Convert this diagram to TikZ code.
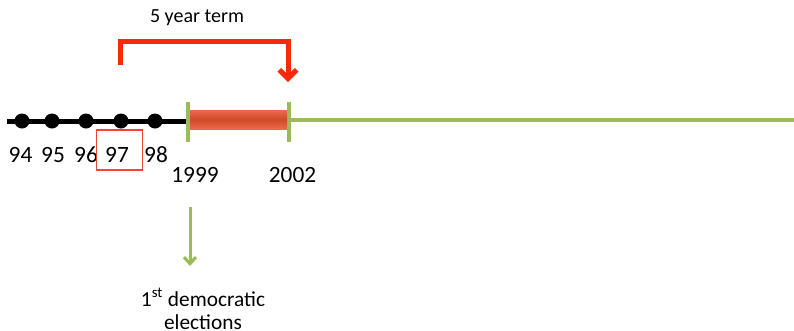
\documentclass[tikz,border=0pt]{standalone}
\usepackage{fontspec}
\setmainfont{Carlito}
\usetikzlibrary{positioning,arrows.meta}
\definecolor{termred}{RGB}{250,40,10}
\definecolor{linegreen}{RGB}{155,187,89}
\definecolor{barred}{RGB}{236,104,80}
\definecolor{bardark}{RGB}{208,76,40}
\definecolor{boxred}{RGB}{240,70,50}

\begin{document}
\begin{tikzpicture}[x=0.75pt, y=-0.75pt,
    dot/.style={circle, fill=black, inner sep=0pt, minimum size=11.25pt},
    tick/.style={rectangle, fill=linegreen, inner sep=0pt, minimum width=2.6pt, minimum height=30pt},
    yearlbl/.style={anchor=base, inner sep=0pt, font=\fontsize{17.5}{20}\selectfont},
    hlbox/.style={draw=boxred, line width=0.8pt, inner sep=0pt, minimum width=35pt, minimum height=30pt},
    oldline/.style={line width=3.75pt, black},
    newline/.style={line width=3.4pt, linegreen},
    termarrow/.style={-{Straight Barb[length=6.5pt, width=13pt]}, line width=3.75pt, termred},
    elecarrow/.style={-{Straight Barb[length=5pt, width=9pt]}, line width=2.25pt, linegreen},
    note/.style={align=center, inner sep=0pt, font=\fontsize{16}{17.5}\selectfont}
]
\useasboundingbox (0,0) rectangle (794,330);

% Ends of the time line
\coordinate (lstart) at (7,121);
\coordinate (lend) at (794,120);

% Years before 1999
\node[dot] (d94) at (22,121) {};
\node[dot] (d95) at (52,121) {};
\node[dot] (d96) at (86,121) {};
\node[dot] (d97) at (121,121) {};
\node[dot] (d98) at (155,121) {};
\node[yearlbl] (l94) at (20.5,162) {94};
\node[yearlbl] (l95) at (53,162) {95};
\node[yearlbl] (l96) at (86,162) {96};
\node[yearlbl] (l97) at (117,162) {97};
\node[yearlbl] (l98) at (156,162) {98};
\node[hlbox] (box97) at (119.5,150) {};

% Term markers
\node[tick] (t1999) at (188,122) {};
\node[tick] (t2002) at (289,122) {};
\node[yearlbl] (l1999) at (195,182) {1999};
\node[yearlbl] (l2002) at (292.5,182) {2002};

% Lines
\draw[oldline] (lstart) -- (t1999.west |- lstart);
\draw[newline] (t2002.east |- lend) -- (lend);
\shade[top color=barred, bottom color=barred, middle color=bardark]
    (t1999.east |- 0,110) rectangle (t2002.west |- 0,129);

% 5 year term
\node[font=\fontsize{15}{18}\selectfont, anchor=base] (term) at (197,22) {5 year term};
\coordinate (bstart) at (120,65);
\coordinate (btip) at (288,82);
\draw[termarrow] (bstart) |- (btip |- 0,41.5) -- (btip);

% Elections
\coordinate (astart) at (190,207);
\coordinate (aend) at (190,266);
\draw[elecarrow] (astart) -- (aend);
\node[note, anchor=north] (elec) at (203,288) {1\textsuperscript{st} democratic\\elections};

\end{tikzpicture}
\end{document}
